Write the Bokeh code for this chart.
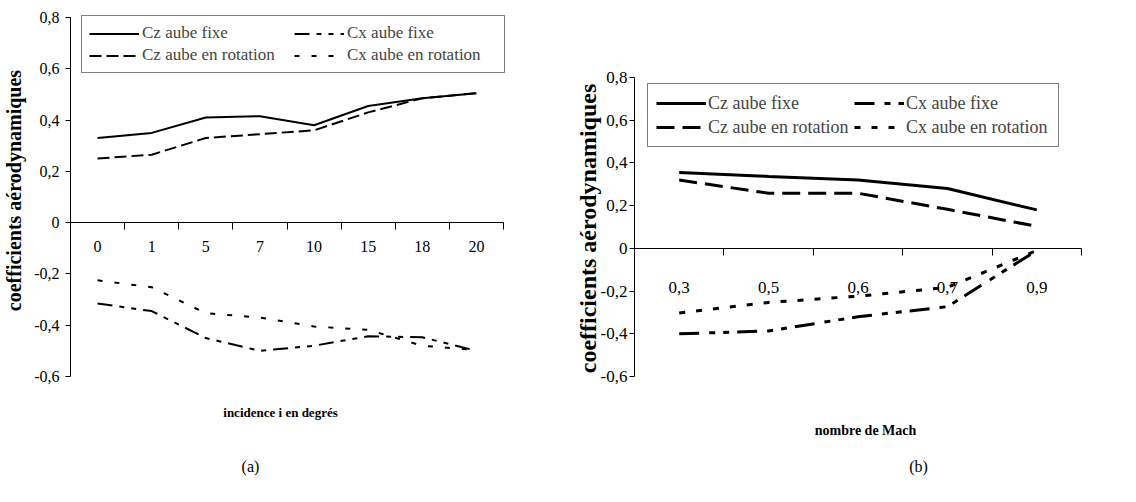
import math
import numpy as np
from bokeh.plotting import figure
from bokeh.models import Range1d, LinearAxis, FixedTicker, Legend, LegendItem, Label
from bokeh.layouts import row
from bokeh.embed import file_html
from bokeh.resources import INLINE

# ---------------- data ----------------
incidence = ["0", "1", "5", "7", "10", "15", "18", "20"]
cz_fixe_a = [0.33, 0.35, 0.41, 0.415, 0.38, 0.455, 0.485, 0.505]
cz_rot_a = [0.25, 0.265, 0.33, 0.345, 0.36, 0.43, 0.485, 0.505]
cx_fixe_a = [-0.315, -0.345, -0.45, -0.50, -0.48, -0.443, -0.447, -0.50]
cx_rot_a = [-0.225, -0.252, -0.353, -0.37, -0.405, -0.418, -0.48, -0.497]

mach = ["0,3", "0,5", "0,6", "0,7", "0,9"]
cz_fixe_b = [0.355, 0.337, 0.32, 0.28, 0.18]
cz_rot_b = [0.32, 0.258, 0.258, 0.183, 0.103]
cx_fixe_b = [-0.40, -0.387, -0.32, -0.273, -0.01]
cx_rot_b = [-0.303, -0.253, -0.224, -0.183, -0.01]

y_ticks = [-0.6, -0.4, -0.2, 0, 0.2, 0.4, 0.6, 0.8]
y_tick_labels = ["-0,6", "-0,4", "-0,2", "0", "0,2", "0,4", "0,6", "0,8"]

series_names = ["Cz aube fixe", "Cx aube fixe", "Cz aube en rotation", "Cx aube en rotation"]
y_title = "coefficients aérodynamiques"

FONT = "Liberation Serif"
W, H = 1136, 502


def make_panel(cats, cz_fixe, cz_rot, cx_fixe, cx_rot, fig_w, left, right, top, bottom,
               tick_fs, legend_fs, ytitle_fs, lw, dashes, legend_cfg, ylabel_standoff,
               xlabel_standoff, ytitle_pos, xtitle, xtitle_pos, caption, caption_pos,
               xtitle_fs):
    """left/right/top/bottom: pixel box (within this figure) of the plot area."""
    n = len(cats)
    y_lo, y_hi = y_ticks[0], y_ticks[-1]
    ppu = (bottom - top) / (y_hi - y_lo)          # pixels per y unit
    ppx = (right - left) / n                      # pixels per category
    x_range = Range1d(-left / ppx, n + (fig_w - right) / ppx)
    y_range = Range1d(y_lo - (H - bottom) / ppu, y_hi + top / ppu)
    p = figure(width=fig_w, height=H, x_range=x_range, y_range=y_range,
               x_axis_type=None, y_axis_type=None, output_backend="svg", toolbar_location=None,
               min_border=0)
    p.outline_line_color = None
    p.background_fill_color = "white"
    p.border_fill_color = "white"

    def dx(px):
        return x_range.start + px / ppx

    def dy(py):
        return y_range.end - py / ppu

    # y axis (fixed at the left edge of the plot area)
    yax = LinearAxis(ticker=FixedTicker(ticks=y_ticks), bounds=(y_lo, y_hi), fixed_location=0,
                     major_label_overrides={t: l for t, l in zip(y_ticks, y_tick_labels)},
                     major_tick_in=0, major_tick_out=5, minor_tick_line_color=None,
                     major_label_standoff=ylabel_standoff,
                     major_label_text_font=FONT, major_label_text_font_size=tick_fs,
                     major_label_text_color="black",
                     axis_line_color="black", major_tick_line_color="black")
    p.add_layout(yax, "left")

    # x axis at y = 0 : tick marks at category boundaries
    bounds = list(range(n + 1))
    xt = LinearAxis(ticker=FixedTicker(ticks=bounds), fixed_location=0, bounds=(0, n),
                    major_label_overrides={b: "" for b in bounds},
                    major_tick_in=0, major_tick_out=7, minor_tick_line_color=None,
                    axis_line_color="black", major_tick_line_color="black")
    p.add_layout(xt, "below")
    centers = [i + 0.5 for i in range(n)]
    xl = LinearAxis(ticker=FixedTicker(ticks=centers), fixed_location=0, bounds=(0, n),
                    major_label_overrides={c: s for c, s in zip(centers, cats)},
                    major_tick_in=0, major_tick_out=0, minor_tick_line_color=None,
                    axis_line_color=None, major_tick_line_color=None,
                    major_label_standoff=xlabel_standoff,
                    major_label_text_font=FONT, major_label_text_font_size=tick_fs,
                    major_label_text_color="black")
    p.add_layout(xl, "below")

    xs = np.arange(n) + 0.5
    r1 = p.line(xs, cz_fixe, line_color="black", line_width=lw)
    r2 = p.line(xs, cx_fixe, line_color="black", line_width=lw, line_dash=dashes[1])
    r3 = p.line(xs, cz_rot, line_color="black", line_width=lw, line_dash=dashes[0])
    r4 = p.line(xs, cx_rot, line_color="black", line_width=lw, line_dash=dashes[2])

    items = [LegendItem(label=series_names[0], renderers=[r1]),
             LegendItem(label=series_names[1], renderers=[r2]),
             LegendItem(label=series_names[2], renderers=[r3]),
             LegendItem(label=series_names[3], renderers=[r4])]
    lg = Legend(items=items, ncols=2, orientation="horizontal",
                location=legend_cfg["loc"],
                label_text_font=FONT, label_text_font_size=legend_fs,
                glyph_width=legend_cfg["gw"], glyph_height=legend_cfg["lh"],
                label_height=legend_cfg["lh"], label_width=legend_cfg["lw"],
                label_standoff=legend_cfg["ls"], spacing=2, padding=legend_cfg["pad"],
                margin=0, border_line_color="black", border_line_width=1.5,
                background_fill_color="white", background_fill_alpha=1.0)
    p.add_layout(lg)

    p.add_layout(Label(x=dx(ytitle_pos[0]), y=dy(ytitle_pos[1]), text=y_title,
                       angle=math.pi / 2, text_align="center", text_baseline="middle",
                       text_font=FONT, text_font_style="bold", text_font_size=ytitle_fs,
                       text_color="black"))
    p.add_layout(Label(x=dx(xtitle_pos[0]), y=dy(xtitle_pos[1]), text=xtitle,
                       text_align="center", text_baseline="middle", text_font=FONT,
                       text_font_style="bold", text_font_size=xtitle_fs, text_color="black"))
    p.add_layout(Label(x=dx(caption_pos[0]), y=dy(caption_pos[1]), text=caption,
                       text_align="center", text_baseline="middle", text_font=FONT,
                       text_font_size="16px", text_color="black"))
    return p


pa = make_panel(incidence, cz_fixe_a, cz_rot_a, cx_fixe_a, cx_rot_a,
                fig_w=568, left=70, right=503, top=17, bottom=376,
                tick_fs="16px", legend_fs="17px", ytitle_fs="20px", lw=2,
                dashes=["12 5", "15 7 5 7 5 7", "5 12"],
                legend_cfg=dict(loc=(81, H - 73), gw=50, lh=17, lw=150, ls=3, pad=7),
                ylabel_standoff=6, xlabel_standoff=18, ytitle_pos=(13, 190),
                xtitle="incidence i en degrés", xtitle_pos=(280, 412),
                caption="(a)", caption_pos=(250, 466), xtitle_fs="13px")

pb = make_panel(mach, cz_fixe_b, cz_rot_b, cx_fixe_b, cx_rot_b,
                fig_w=568, left=634 - 568, right=1081 - 568, top=77, bottom=376,
                tick_fs="17px", legend_fs="18px", ytitle_fs="24px", lw=3,
                dashes=["18 8", "20 10 6 8 6 8", "6 11"],
                legend_cfg=dict(loc=(647 - 568, H - 147), gw=50, lh=22, lw=144, ls=2, pad=8),
                ylabel_standoff=2, xlabel_standoff=34, ytitle_pos=(587 - 568, 228),
                xtitle="nombre de Mach", xtitle_pos=(865 - 568, 430),
                caption="(b)", caption_pos=(918 - 568, 466), xtitle_fs="14px")

layout = row(pa, pb)
open("out.html", "w").write(file_html(layout, INLINE))
